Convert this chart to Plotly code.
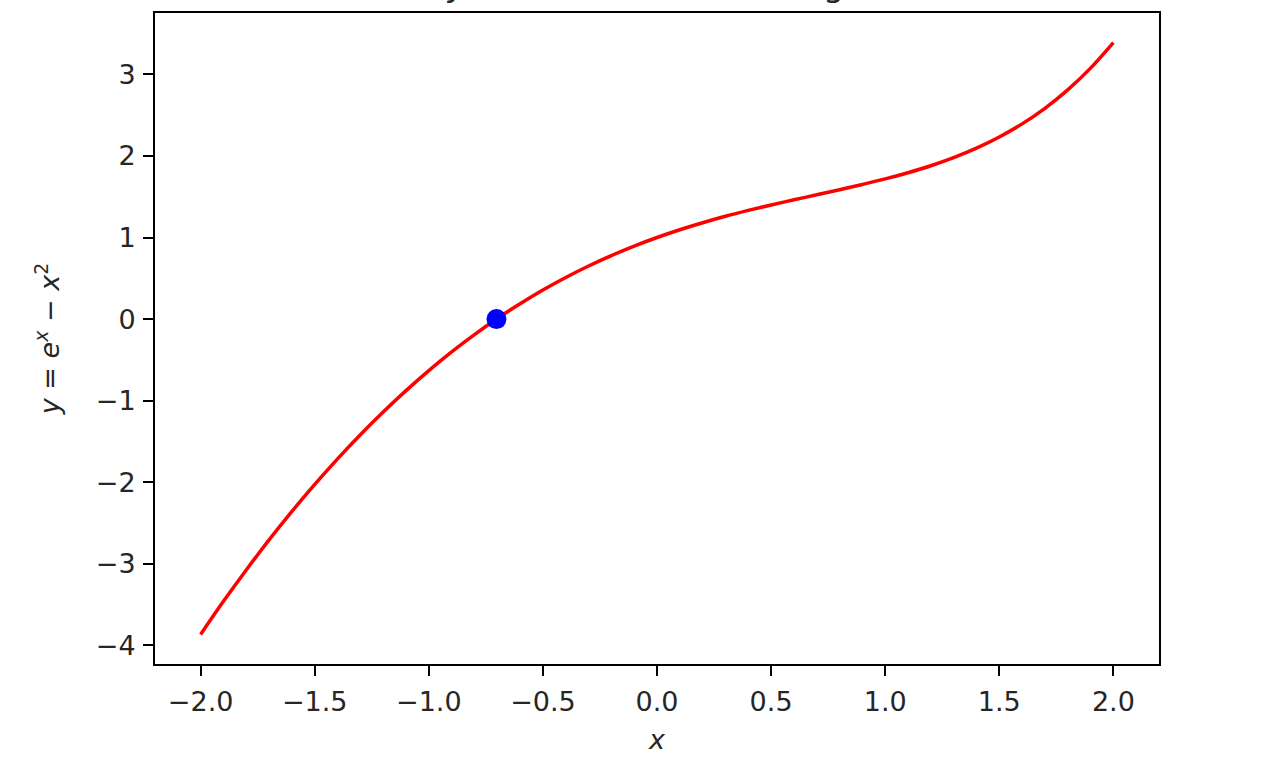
import plotly.graph_objects as go

# Curve values (y = e^x - x^2 plotted on [-2, 2])
x_vals = [-2.0, -1.9, -1.8, -1.7, -1.6, -1.5, -1.4, -1.3, -1.2, -1.1, -1.0,
          -0.9, -0.8, -0.7, -0.6, -0.5, -0.4, -0.3, -0.2, -0.1, 0.0,
          0.1, 0.2, 0.3, 0.4, 0.5, 0.6, 0.7, 0.8, 0.9, 1.0,
          1.1, 1.2, 1.3, 1.4, 1.5, 1.6, 1.7, 1.8, 1.9, 2.0]
y_vals = [-3.865, -3.460, -3.075, -2.707, -2.358, -2.027, -1.713, -1.417, -1.139, -0.877, -0.632,
          -0.403, -0.191, 0.007, 0.189, 0.357, 0.510, 0.651, 0.779, 0.895, 1.000,
          1.095, 1.181, 1.260, 1.332, 1.399, 1.462, 1.524, 1.586, 1.650, 1.718,
          1.794, 1.880, 1.979, 2.095, 2.232, 2.393, 2.584, 2.810, 3.076, 3.389]

# Root marker
root_x = [-0.7035]
root_y = [0.0]

x_ticks = [-2.0, -1.5, -1.0, -0.5, 0.0, 0.5, 1.0, 1.5, 2.0]
y_ticks = [-4, -3, -2, -1, 0, 1, 2, 3]

title_text = "Root of <i>y</i> = <i>e</i><sup><i>x</i></sup> − <i>x</i><sup>2</sup> found using bisection"

FONT = "DejaVu Sans"
TXT = "#262626"

fig = go.Figure()
fig.add_trace(go.Scatter(x=x_vals, y=y_vals, mode="lines", line=dict(color="#ff0000", width=3.5, shape="spline"),
                         showlegend=False, hoverinfo="skip"))
fig.add_trace(go.Scatter(x=root_x, y=root_y, mode="markers", marker=dict(color="#0000ff", size=20),
                         showlegend=False))

axis_common = dict(showgrid=False, zeroline=False, showline=True, linecolor="#000000", linewidth=2,
                   mirror=True, ticks="outside", ticklen=10, tickwidth=2, tickcolor="#000000",
                   tickfont=dict(family=FONT, size=27, color=TXT))

fig.update_xaxes(range=[-2.2, 2.2], tickvals=x_ticks, tickformat=".1f", ticklabelstandoff=3,
                 title=dict(text="<i>x</i>", font=dict(family=FONT, size=27, color=TXT), standoff=14),
                 **axis_common)
fig.update_yaxes(range=[-4.228, 3.752], tickvals=y_ticks, tickformat="d", ticklabelstandoff=2,
                 title=dict(text="<i>y</i> = <i>e</i><sup><i>x</i></sup> − <i>x</i><sup>2</sup>",
                            font=dict(family=FONT, size=27, color=TXT), standoff=28),
                 **axis_common)

fig.add_annotation(text=title_text, xref="paper", yref="paper", x=0.5, y=1.0, xanchor="center",
                   yanchor="bottom", yshift=7, xshift=5, showarrow=False,
                   font=dict(family=FONT, size=33.6, color=TXT))

fig.update_layout(width=1278, height=769, margin=dict(l=155, r=119, t=11, b=105),
                  paper_bgcolor="white", plot_bgcolor="white", font=dict(family=FONT, color=TXT))

fig.write_html("out.html", config={"displayModeBar": False},
               post_script="document.body.style.margin='0px';document.body.style.overflow='hidden';")
